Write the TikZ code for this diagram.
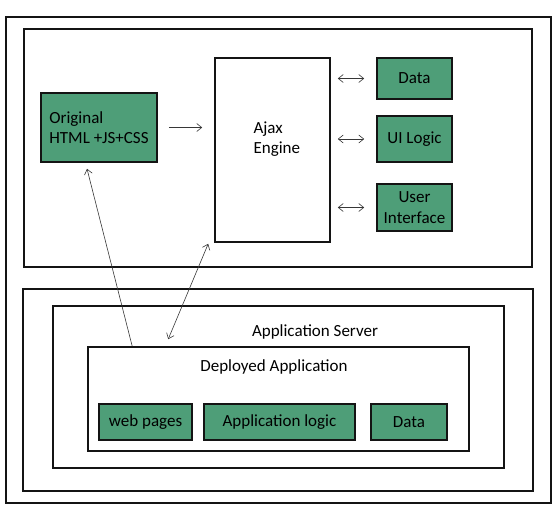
\documentclass[tikz,border=0pt]{standalone}
\usepackage{fontspec}
\setmainfont{Carlito}
\usetikzlibrary{arrows,arrows.meta,calc}
\definecolor{GreenClr}{RGB}{78,158,120}
\definecolor{LineClr}{RGB}{20,20,20}

\tikzset{
  FrameBox/.style={draw=LineClr,line width=1.6pt,inner sep=0pt},
  GreenBox/.style={draw=LineClr,fill=GreenClr,line width=1.6pt,inner sep=0pt,align=center},
  Link/.style={-{Straight Barb[length=5pt,width=8pt]},line width=0.6pt,color=LineClr!85},
  TwoWay/.style={{Straight Barb[length=5pt,width=8pt]}-{Straight Barb[length=5pt,width=8pt]},line width=0.6pt,color=LineClr!85}
}

\begin{document}
\begin{tikzpicture}[x=1pt,y=-1pt,font=\fontsize{17}{20.5}\selectfont]
\useasboundingbox (0,0) rectangle (560,520);

\node[FrameBox,minimum width=545,minimum height=486] (Outer) at (278.5,260) {};
\node[FrameBox,minimum width=508,minimum height=238] (Client) at (278,148) {};
\node[FrameBox,minimum width=510,minimum height=202] (Server) at (278,390) {};
\node[FrameBox,minimum width=451,minimum height=162] (AppSrv) at (278.5,387) {};
\node[FrameBox,minimum width=381,minimum height=104] (Deployed) at (278.5,399) {};

\node[GreenBox,minimum width=116,minimum height=69,align=left] (Orig) at (99,127.5) {Original\\HTML +JS+CSS};
\node[FrameBox,minimum width=115,minimum height=184] (Ajax) at (272.5,150) {};
\node[anchor=west,align=left] (AjaxTxt) at (250,139) {Ajax\\Engine};

\node[GreenBox,minimum width=75,minimum height=41] (Data) at (414.5,78.5) {Data};
\node[GreenBox,minimum width=75,minimum height=46] (UILogic) at (414.5,139) {UI Logic};
\node[GreenBox,minimum width=75,minimum height=47] (UserIf) at (414.5,207.5) {User\\Interface};

\node (AppSrvTxt) at (315,332) {Application Server};
\node (DepTxt) at (274,367) {Deployed Application};

\node[GreenBox,minimum width=93,minimum height=36] (WebPages) at (145.5,422) {web pages};
\node[GreenBox,minimum width=151,minimum height=36] (AppLogic) at (279.5,422) {Application logic};
\node[GreenBox,minimum width=76,minimum height=36] (DepData) at (409,422) {Data};

\draw[Link,shorten <=11pt,shorten >=12pt] (Orig.east) -- (Orig.east -| Ajax.west);

\draw[TwoWay,shorten <=7pt,shorten >=12pt] (Data.west -| Ajax.east) -- (Data.west);
\draw[TwoWay,shorten <=7pt,shorten >=12pt] (UILogic.west -| Ajax.east) -- (UILogic.west);
\draw[TwoWay,shorten <=7pt,shorten >=12pt] (UserIf.west -| Ajax.east) -- (UserIf.west);

\coordinate (DepUp) at ($(Deployed.north west)+(45,0)$);
\coordinate (OrigIn) at ($(Orig.south)+(-12,6)$);
\draw[Link] (DepUp) -- (OrigIn);

\coordinate (DepIn) at ($(Deployed.north west)+(81,-7)$);
\coordinate (AjaxIn) at ($(Ajax.south west)+(-6,1)$);
\draw[TwoWay] (DepIn) -- (AjaxIn);

\end{tikzpicture}
\end{document}
